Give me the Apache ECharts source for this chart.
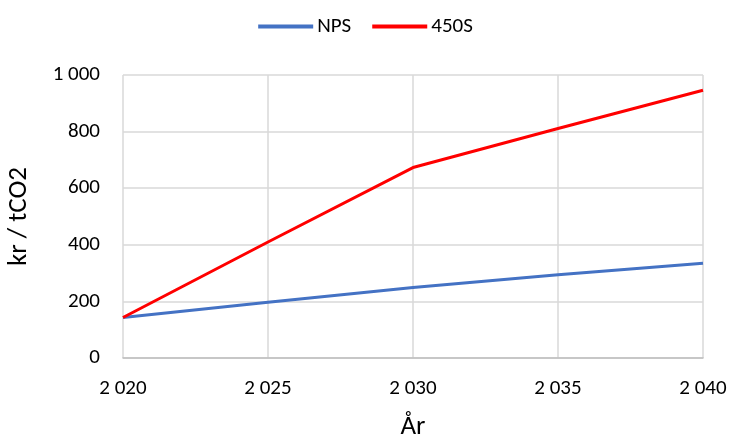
<!DOCTYPE html>
<html>
<head>
<meta charset="utf-8">
<script src="https://cdn.jsdelivr.net/npm/echarts@6/dist/echarts.min.js"></script>
<style>
  html, body { margin: 0; padding: 0; background: #fff; }
  #chart { width: 731px; height: 440px; }
</style>
</head>
<body>
<div id="chart"></div>
<script>
// Carbon price paths (kr per tonne CO2) by year
const years = [2020, 2025, 2030, 2035, 2040];
const npsValues = [143, 197, 249, 294, 335];
const s450Values = [143, 410, 673, 811, 946];
const yTicks = [0, 200, 400, 600, 800, 1000];

const FONT = 'Carlito, Lato, "Open Sans", sans-serif';

// Thousands separated by a space, e.g. 2 020, 1 000
function spaced(v) {
  return String(v).replace(/\B(?=(\d{3})+(?!\d))/g, ' ');
}

const chart = echarts.init(document.getElementById('chart'), null, { renderer: 'canvas' });

chart.setOption({
  backgroundColor: '#ffffff',
  animation: false,
  legend: {
    top: 11,
    left: 'center',
    itemWidth: 55,
    itemHeight: 4,
    itemGap: 21,
    icon: 'rect',
    textStyle: { fontFamily: FONT, fontSize: 21, color: '#000', padding: [0, 0, 0, -1] },
    data: ['NPS', '450S']
  },
  grid: { left: 123, right: 28, top: 75, bottom: 82, outerBoundsMode: 'none', containLabel: false },
  xAxis: {
    type: 'value',
    min: years[0],
    max: years[years.length - 1],
    interval: 5,
    name: 'År',
    nameLocation: 'middle',
    nameGap: 56,
    nameTextStyle: { fontFamily: FONT, fontSize: 27, color: '#000' },
    axisLine: { show: true, lineStyle: { color: '#bfbfbf', width: 1.5 } },
    axisTick: { show: false },
    axisLabel: {
      margin: 20,
      fontFamily: FONT, fontSize: 21, color: '#000',
      formatter: spaced
    },
    splitLine: { show: true, lineStyle: { color: '#d9d9d9', width: 1.5 } }
  },
  yAxis: {
    type: 'value',
    min: yTicks[0],
    max: yTicks[yTicks.length - 1],
    interval: 200,
    name: 'kr / tCO2',
    nameLocation: 'middle',
    nameGap: 90,
    nameTextStyle: { fontFamily: FONT, fontSize: 27, color: '#000' },
    axisLine: { show: false },
    axisTick: { show: false },
    axisLabel: {
      margin: 23,
      fontFamily: FONT, fontSize: 21, color: '#000',
      formatter: spaced
    },
    splitLine: { show: true, lineStyle: { color: '#d9d9d9', width: 1.5 } }
  },
  series: [
    {
      name: 'NPS',
      type: 'line',
      data: years.map((y, i) => [y, npsValues[i]]),
      showSymbol: false,
      lineStyle: { color: '#4472C4', width: 3 },
      itemStyle: { color: '#4472C4' }
    },
    {
      name: '450S',
      type: 'line',
      data: years.map((y, i) => [y, s450Values[i]]),
      showSymbol: false,
      lineStyle: { color: '#FF0000', width: 3 },
      itemStyle: { color: '#FF0000' }
    }
  ]
});
</script>
</body>
</html>
